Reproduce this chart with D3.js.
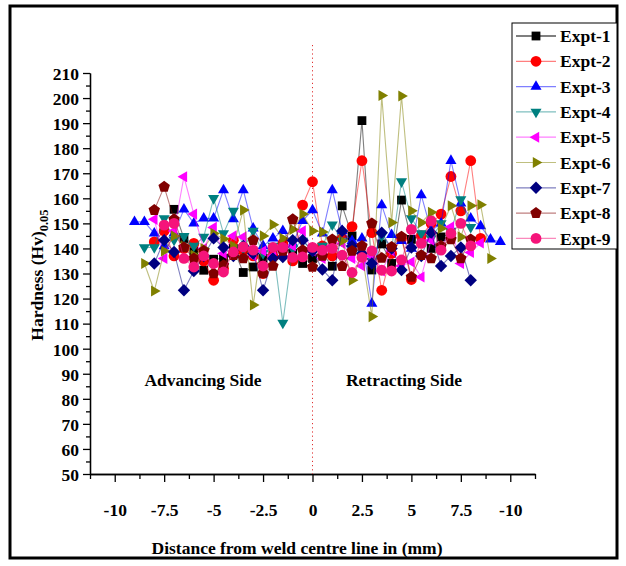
<!DOCTYPE html>
<html>
<head>
<meta charset="utf-8">
<script src="https://cdn.jsdelivr.net/npm/d3@7"></script>
<style>
  body { margin: 0; background: #fff; }
  svg { display: block; }
  text { font-family: "Liberation Serif", "Times New Roman", serif; font-weight: bold; fill: #000; }
</style>
</head>
<body>
<svg id="chart" width="626" height="566"></svg>
<script>
// Measurement positions (mm from the weld centre line)
const distance = [-9, -8.5, -8, -7.5, -7, -6.5, -6, -5.5, -5, -4.5, -4, -3.5, -3, -2.5, -2, -1.5, -1, -0.5,
  0, 0.5, 1, 1.5, 2, 2.5, 3, 3.5, 4, 4.5, 5, 5.5, 6, 6.5, 7, 7.5, 8, 8.5, 9, 9.5];

// Microhardness readings, one array per experiment (null = no reading)
const expt1 = [null, null, null, null, 155.6, 144, 139, 131.3, 135.7, 136, 140, 130.4, 132.6, 136, 139, 141, 138, 134,
  136, 138, 132.9, 157, 145, 191, 131.4, 141.8, 134, 159.3, 143.6, 145.3, 140, 144.6, 146, null, null, null, null, null];
const expt2 = [null, null, 142.6, 147, 137, 140, 142, 135, 127.3, 132, 143.3, 139, 137, 130, 137, 142, 135, 157.3,
  166.6, 141, 137, 144, 148.7, 175, 146.3, 123.3, 138, 144, 127.6, 145, 150, 153.7, 168.7, 155, 175, 144, null, null];
const expt3 = [150.6, 150.6, 146, 141, 146, 155.6, 150, 152, 152, 163.3, 151.7, 163.3, 148, 141, 144, 147, 142, 151,
  155.3, 146, 163.3, 147, 143, 144, 118, 157.3, 145.4, 143, 140, 161.3, 147, 150, 175, 158, 152, 148.9, 143.6, 142.6];
const expt4 = [null, 140.4, 140.4, 152, 143.4, 144.9, 141, 144.6, 160, 146, 155, 140, 147, 138, 141, 110.3, 140, 143,
  139, 141, 149.5, 143, 138, 140, 135, 145, 140, 166.7, 152, 146, 144, 150, 147, 159.5, 148.5, null, null, null];
const expt5 = [null, null, 151.6, 136, 147, 168.6, 153.7, 140, 148.4, 138, 145, 144.6, 137, 139, 137, 139, 141, 147,
  139, 136, 141, 142, 136, 133, 137, 131, 139, 133, 134.6, 128.6, 143.3, 140, 148.6, 134, 138.4, 142.2, null, null];
const expt6 = [null, 134, 123, 139, 145, 141, 137.3, 140, 146, 143.8, 141, 155.3, 117.4, 145, 149.5, 144, 147.6, 153.7,
  147, 146.6, 140, 143, 127.3, 138, 112.8, 201, 150.3, 200.8, 155, 150.3, 154.4, 148, 157, 144.6, 157, 157.4, 136, null];
const expt7 = [null, null, 134, 143.3, 138.6, 123.3, 131, 137, 144, 140.4, 137, 141, 138, 123.3, 136, 136.6, 143.3, 143.3,
  139, 131.6, 127.3, 147, 141, 138, 134, 146.3, 140, 131.4, 140.4, 137, 146.3, 133, 137, 140.4, 127.3, null, null, null];
const expt8 = [null, null, 155.3, 164.6, 151.6, 140.4, 136, 139, 130, 133.3, 137.3, 136, 143.3, 130, 133, 139, 151.6, 139.3,
  132.6, 137, 143.6, 132.9, 139, 141, 150, 136.2, 140.6, 144.7, 128.6, 137.3, 136, 141, 143.6, 136, 143.6, null, null, null];
const expt9 = [null, null, null, 149.3, 150, 136, 132.6, 137, 134, 130.6, 138.6, 140.6, 139.3, 133, 140.4, 140.4, 136.4, 136.6,
  140.4, 139.3, 140, 137.3, 130.4, 136.4, 139, 131.3, 131, 135.4, 147.6, 142, 151, 139.3, 146, 150, 141, null, null, null];

const seriesNames = ["Expt-1", "Expt-2", "Expt-3", "Expt-4", "Expt-5", "Expt-6", "Expt-7", "Expt-8", "Expt-9"];
const seriesValues = [expt1, expt2, expt3, expt4, expt5, expt6, expt7, expt8, expt9];
const seriesColors = ["#000000", "#ff0000", "#0000ff", "#008080", "#ff00ff", "#808000", "#000080", "#800000", "#f5147a"];
const seriesShapes = ["square", "circle", "up", "down", "left", "right", "diamond", "pentagon", "circle"];

const xTickValues = [-10, -7.5, -5, -2.5, 0, 2.5, 5, 7.5, 10];
const xTickLabels = ["-10", "-7.5", "-5", "-2.5", "0", "2.5", "5", "7.5", "-10"];
const xMinorValues = [-11.25, -8.75, -6.25, -3.75, -1.25, 1.25, 3.75, 6.25, 8.75, 11.25];
const yTickValues = d3.range(50, 211, 10);
const yMinorValues = d3.range(55, 210, 10);

const svg = d3.select("#chart");

// Outer figure frame
svg.append("rect").attr("x", 10).attr("y", 6).attr("width", 607).attr("height", 552)
  .attr("fill", "none").attr("stroke", "#000").attr("stroke-width", 3);

const x = d3.scaleLinear().domain([-11.25, 11.25]).range([90, 535]);
const y = d3.scaleLinear().domain([50, 210]).range([474, 73]);

// Marker outlines in the style of the plotting package
function markerPath(shape) {
  const tri = (pts) => "M" + pts.map(p => p.join(",")).join("L") + "Z";
  switch (shape) {
    case "square": { const s = 4.4; return `M${-s},${-s}H${s}V${s}H${-s}Z`; }
    case "circle": return d3.symbol(d3.symbolCircle, Math.PI * 5.4 * 5.4)();
    case "up": { const r = 6.4; return tri([[0, -r], [r * 0.866, r * 0.5], [-r * 0.866, r * 0.5]]); }
    case "down": { const r = 6.4; return tri([[0, r], [r * 0.866, -r * 0.5], [-r * 0.866, -r * 0.5]]); }
    case "left": { const r = 6.4; return tri([[-r, 0], [r * 0.5, -r * 0.866], [r * 0.5, r * 0.866]]); }
    case "right": { const r = 6.4; return tri([[r, 0], [-r * 0.5, -r * 0.866], [-r * 0.5, r * 0.866]]); }
    case "diamond": { const r = 6.2; return tri([[0, -r], [r, 0], [0, r], [-r, 0]]); }
    case "pentagon": {
      const r = 6.0;
      return tri(d3.range(5).map(k => {
        const a = -Math.PI / 2 + k * 2 * Math.PI / 5;
        return [r * Math.cos(a), r * Math.sin(a)];
      }));
    }
  }
}

// Axes
const axisG = svg.append("g");
const xAxis = axisG.append("g").attr("transform", `translate(0,${y(50)})`)
  .call(d3.axisBottom(x).tickValues(xTickValues).tickSize(8).tickFormat((d, i) => xTickLabels[i]).tickSizeOuter(0));
xAxis.selectAll("text").attr("y", 30).attr("dy", "0.71em").style("font-size", "17.5px");
axisG.append("g").attr("transform", `translate(0,${y(50)})`)
  .call(d3.axisBottom(x).tickValues(xMinorValues).tickSize(5).tickFormat("").tickSizeOuter(0));

const yAxis = axisG.append("g").attr("transform", `translate(${x(-11.25)},0)`)
  .call(d3.axisLeft(y).tickValues(yTickValues).tickSize(7).tickPadding(4).tickSizeOuter(0));
yAxis.selectAll("text").style("font-size", "17.5px").attr("dy", "0.36em");
axisG.append("g").attr("transform", `translate(${x(-11.25)},0)`)
  .call(d3.axisLeft(y).tickValues(yMinorValues).tickSize(4).tickFormat("").tickSizeOuter(0));
axisG.selectAll("path.domain, line").attr("stroke", "#000").attr("stroke-width", 1.3);

// Weld centre line
svg.append("line").attr("x1", x(0)).attr("x2", x(0)).attr("y1", 45).attr("y2", y(50))
  .attr("stroke", "#e03030").attr("stroke-width", 1).attr("stroke-dasharray", "1.2,3");

// Series lines and markers
const plot = svg.append("g");
seriesValues.forEach((vals, si) => {
  const pts = distance.map((d, i) => ({ d, v: vals[i] })).filter(p => p.v !== null);
  const g = plot.append("g");
  g.append("path").datum(pts)
    .attr("d", d3.line().x(p => x(p.d)).y(p => y(p.v)))
    .attr("fill", "none").attr("stroke", seriesColors[si]).attr("stroke-width", 1.1).attr("stroke-opacity", 0.5);
  g.selectAll("path.m").data(pts).join("path").attr("class", "m")
    .attr("d", markerPath(seriesShapes[si]))
    .attr("transform", p => `translate(${x(p.d)},${y(p.v)})`)
    .attr("fill", seriesColors[si]);
});

// Side annotations
svg.append("text").attr("x", 203).attr("y", 386).attr("text-anchor", "middle").style("font-size", "17.5px").text("Advancing Side");
svg.append("text").attr("x", 404).attr("y", 386).attr("text-anchor", "middle").style("font-size", "17.5px").text("Retracting Side");

// Axis titles
svg.append("text").attr("x", 297).attr("y", 554).attr("text-anchor", "middle").style("font-size", "17.5px")
  .text("Distance from weld centre line in (mm)");
const yTitle = svg.append("text").attr("transform", "translate(43,275) rotate(-90)").attr("text-anchor", "middle").style("font-size", "17.5px");
yTitle.append("tspan").text("Hardness (Hv)");
yTitle.append("tspan").attr("dy", 5).style("font-size", "12.5px").text("0.05");

// Legend
const legend = svg.append("g");
legend.append("rect").attr("x", 512).attr("y", 23).attr("width", 105).attr("height", 226)
  .attr("fill", "#fff").attr("stroke", "#000").attr("stroke-width", 1);
seriesNames.forEach((name, si) => {
  const ly = 36 + si * 25.3;
  legend.append("line").attr("x1", 516).attr("x2", 556).attr("y1", ly).attr("y2", ly)
    .attr("stroke", seriesColors[si]).attr("stroke-width", 1.2).attr("stroke-opacity", si === 0 ? 1 : 0.5);
  legend.append("path").attr("d", markerPath(seriesShapes[si])).attr("transform", `translate(536,${ly})`).attr("fill", seriesColors[si]);
  legend.append("text").attr("x", 560).attr("y", ly).attr("dy", "0.35em").style("font-size", "17.5px").text(name);
});
</script>
</body>
</html>
